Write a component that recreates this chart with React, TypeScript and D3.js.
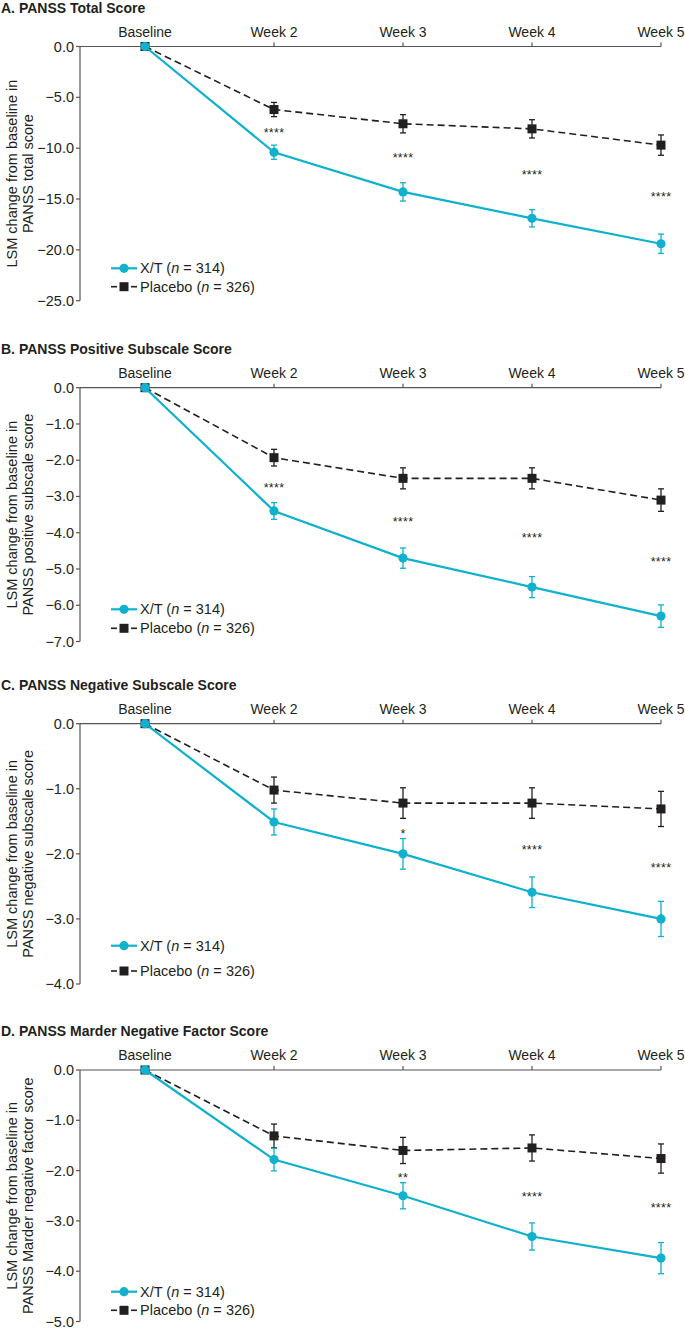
import React from "react";
import * as d3 from "d3";

// ---------- DATA ----------
const timepoints = ["Baseline", "Week 2", "Week 3", "Week 4", "Week 5"];

const totalXT = [0, -10.4, -14.3, -16.9, -19.4];
const totalXTErr = [0, 0.7, 0.9, 0.85, 0.95];
const totalPbo = [0, -6.2, -7.6, -8.1, -9.7];
const totalPboErr = [0, 0.7, 0.9, 0.9, 1.0];
const totalStars = ["", "****", "****", "****", "****"];
const totalStarY = [0, -8.2, -10.7, -12.3, -14.5];
const totalTicks = [0, -5, -10, -15, -20, -25];

const posXT = [0, -3.4, -4.7, -5.5, -6.3];
const posXTErr = [0, 0.23, 0.28, 0.29, 0.31];
const posPbo = [0, -1.93, -2.5, -2.5, -3.1];
const posPboErr = [0, 0.23, 0.29, 0.29, 0.31];
const posStars = ["", "****", "****", "****", "****"];
const posStarY = [0, -2.69, -3.63, -4.05, -4.72];
const posTicks = [0, -1, -2, -3, -4, -5, -6, -7];

const negXT = [0, -1.51, -2.0, -2.59, -3.0];
const negXTErr = [0, 0.2, 0.235, 0.235, 0.27];
const negPbo = [0, -1.02, -1.22, -1.22, -1.31];
const negPboErr = [0, 0.2, 0.235, 0.235, 0.27];
const negStars = ["", "", "*", "****", "****"];
const negStarY = [0, 0, -1.65, -1.9, -2.17];
const negTicks = [0, -1, -2, -3, -4];

const marXT = [0, -1.78, -2.5, -3.31, -3.74];
const marXTErr = [0, 0.225, 0.26, 0.27, 0.31];
const marPbo = [0, -1.31, -1.6, -1.55, -1.76];
const marPboErr = [0, 0.235, 0.26, 0.26, 0.29];
const marStars = ["", "", "**", "****", "****"];
const marStarY = [0, 0, -2.08, -2.46, -2.68];
const marTicks = [0, -1, -2, -3, -4, -5];

const panelTitles = [
  "A. PANSS Total Score",
  "B. PANSS Positive Subscale Score",
  "C. PANSS Negative Subscale Score",
  "D. PANSS Marder Negative Factor Score",
];
const yLabel2 = [
  "PANSS total score",
  "PANSS positive subscale score",
  "PANSS negative subscale score",
  "PANSS Marder negative factor score",
];
const yLabel1 = "LSM change from baseline in";
const legendXT = "314";
const legendPbo = "326";

// ---------- LAYOUT / STYLE ----------
const W = 685;
const H = 1329;
const FONT = "'Liberation Sans', Arial, Helvetica, sans-serif";
const TEAL = "#0fb1cc";
const DARK = "#231f20";
const TEXT = "#231f20";
const AXIS = "#555555";
const X0 = 145;
const X1 = 661;
const AXIS_X = 80;

const layouts = [
  { top: 46.5, bottom: 300.7, leg: [268.3, 286.7] },
  { top: 387.7, bottom: 641.5, leg: [609.3, 628.3] },
  { top: 723.7, bottom: 984, leg: [945.7, 971] },
  { top: 1070, bottom: 1321.5, leg: [1291.7, 1310.3] },
];

const panelsData = [
  { xt: totalXT, xtErr: totalXTErr, pbo: totalPbo, pboErr: totalPboErr, stars: totalStars, starY: totalStarY, ticks: totalTicks },
  { xt: posXT, xtErr: posXTErr, pbo: posPbo, pboErr: posPboErr, stars: posStars, starY: posStarY, ticks: posTicks },
  { xt: negXT, xtErr: negXTErr, pbo: negPbo, pboErr: negPboErr, stars: negStars, starY: negStarY, ticks: negTicks },
  { xt: marXT, xtErr: marXTErr, pbo: marPbo, pboErr: marPboErr, stars: marStars, starY: marStarY, ticks: marTicks },
];

const fmt = d3.format(".1f");

function Panel({ idx }: { idx: number }) {
  const d = panelsData[idx];
  const L = layouts[idx];
  const x = d3.scalePoint<string>().domain(timepoints).range([X0, X1]);
  const y = d3
    .scaleLinear()
    .domain([d3.min(d.ticks) as number, 0])
    .range([L.bottom, L.top]);
  const line = d3
    .line<number>()
    .x((_, i) => x(timepoints[i]) as number)
    .y((v) => y(v));
  const mid = (L.top + L.bottom) / 2;
  const capW = 3;

  const errBars = (vals: number[], errs: number[], color: string) =>
    vals.map((v, i) => {
      if (!errs[i]) return null;
      const cx = x(timepoints[i]) as number;
      const y1 = y(v + errs[i]);
      const y2 = y(v - errs[i]);
      return (
        <g key={"e" + i} stroke={color} strokeWidth={1.3}>
          <line x1={cx} x2={cx} y1={y1} y2={y2} />
          <line x1={cx - capW} x2={cx + capW} y1={y1} y2={y1} />
          <line x1={cx - capW} x2={cx + capW} y1={y2} y2={y2} />
        </g>
      );
    });

  return (
    <g>
      <text x={1} y={L.top - 34} fontFamily={FONT} fontWeight="bold" fontSize={14} fill={TEXT}>
        {panelTitles[idx]}
      </text>
      {/* y label */}
      <g transform={`translate(17,${mid}) rotate(-90)`}>
        <text textAnchor="middle" fontFamily={FONT} fontSize={14.5} fill={TEXT}>
          {yLabel1}
        </text>
      </g>
      <g transform={`translate(33,${mid}) rotate(-90)`}>
        <text textAnchor="middle" fontFamily={FONT} fontSize={14.5} fill={TEXT}>
          {yLabel2[idx]}
        </text>
      </g>
      {/* axes */}
      <line x1={AXIS_X} x2={X1} y1={L.top} y2={L.top} stroke={AXIS} strokeWidth={1.2} />
      <line x1={AXIS_X} x2={AXIS_X} y1={L.top} y2={L.bottom} stroke={AXIS} strokeWidth={1.2} />
      {d.ticks.map((t) => (
        <g key={"yt" + t}>
          <line x1={AXIS_X - 4} x2={AXIS_X} y1={y(t)} y2={y(t)} stroke={AXIS} strokeWidth={1.2} />
          <text x={AXIS_X - 6} y={y(t) + 5} textAnchor="end" fontFamily={FONT} fontSize={14.5} fill={TEXT}>
            {fmt(t)}
          </text>
        </g>
      ))}
      {timepoints.map((tp) => (
        <g key={"xt" + tp}>
          <line x1={x(tp)} x2={x(tp)} y1={L.top - 4} y2={L.top} stroke={AXIS} strokeWidth={1.2} />
          <text x={x(tp)} y={L.top - 10} textAnchor="middle" fontFamily={FONT} fontSize={14} fill={TEXT}>
            {tp}
          </text>
        </g>
      ))}
      {/* placebo */}
      <path d={line(d.pbo) || ""} fill="none" stroke={DARK} strokeWidth={1.6} strokeDasharray="7,4" />
      {errBars(d.pbo, d.pboErr, DARK)}
      {d.pbo.map((v, i) => (
        <rect key={"p" + i} x={(x(timepoints[i]) as number) - 4.5} y={y(v) - 4.5} width={9} height={9} fill={DARK} />
      ))}
      {/* X/T */}
      <path d={line(d.xt) || ""} fill="none" stroke={TEAL} strokeWidth={2.2} />
      {errBars(d.xt, d.xtErr, TEAL)}
      {d.xt.map((v, i) => (
        <circle key={"c" + i} cx={x(timepoints[i]) as number} cy={y(v)} r={4.6} fill={TEAL} />
      ))}
      {/* stars */}
      {d.stars.map((s, i) =>
        s ? (
          <text
            key={"s" + i}
            x={x(timepoints[i]) as number}
            y={y(d.starY[i]) + 7}
            textAnchor="middle"
            fontFamily={FONT}
            fontSize={12.5}
            letterSpacing={0.3}
            fill={TEXT}
          >
            {s}
          </text>
        ) : null
      )}
      {/* legend */}
      <line x1={111} x2={137} y1={L.leg[0]} y2={L.leg[0]} stroke={TEAL} strokeWidth={2.2} />
      <circle cx={124} cy={L.leg[0]} r={4.6} fill={TEAL} />
      <text x={140} y={L.leg[0] + 5} fontFamily={FONT} fontSize={14.5} fill={TEXT}>
        X/T (<tspan fontStyle="italic">n</tspan> = {legendXT})
      </text>
      <line x1={111} x2={117} y1={L.leg[1]} y2={L.leg[1]} stroke={DARK} strokeWidth={1.6} />
      <line x1={131} x2={137} y1={L.leg[1]} y2={L.leg[1]} stroke={DARK} strokeWidth={1.6} />
      <rect x={119.5} y={L.leg[1] - 4.5} width={9} height={9} fill={DARK} />
      <text x={140} y={L.leg[1] + 5} fontFamily={FONT} fontSize={14.5} fill={TEXT}>
        Placebo (<tspan fontStyle="italic">n</tspan> = {legendPbo})
      </text>
    </g>
  );
}

export default function App() {
  return (
    <svg
      width={W}
      height={H}
      viewBox={`0 0 ${W} ${H}`}
      style={{ position: "absolute", left: 0, top: 0, background: "#fff" }}
    >
      <rect width={W} height={H} fill="#fff" />
      {panelsData.map((_, i) => (
        <Panel key={i} idx={i} />
      ))}
    </svg>
  );
}
